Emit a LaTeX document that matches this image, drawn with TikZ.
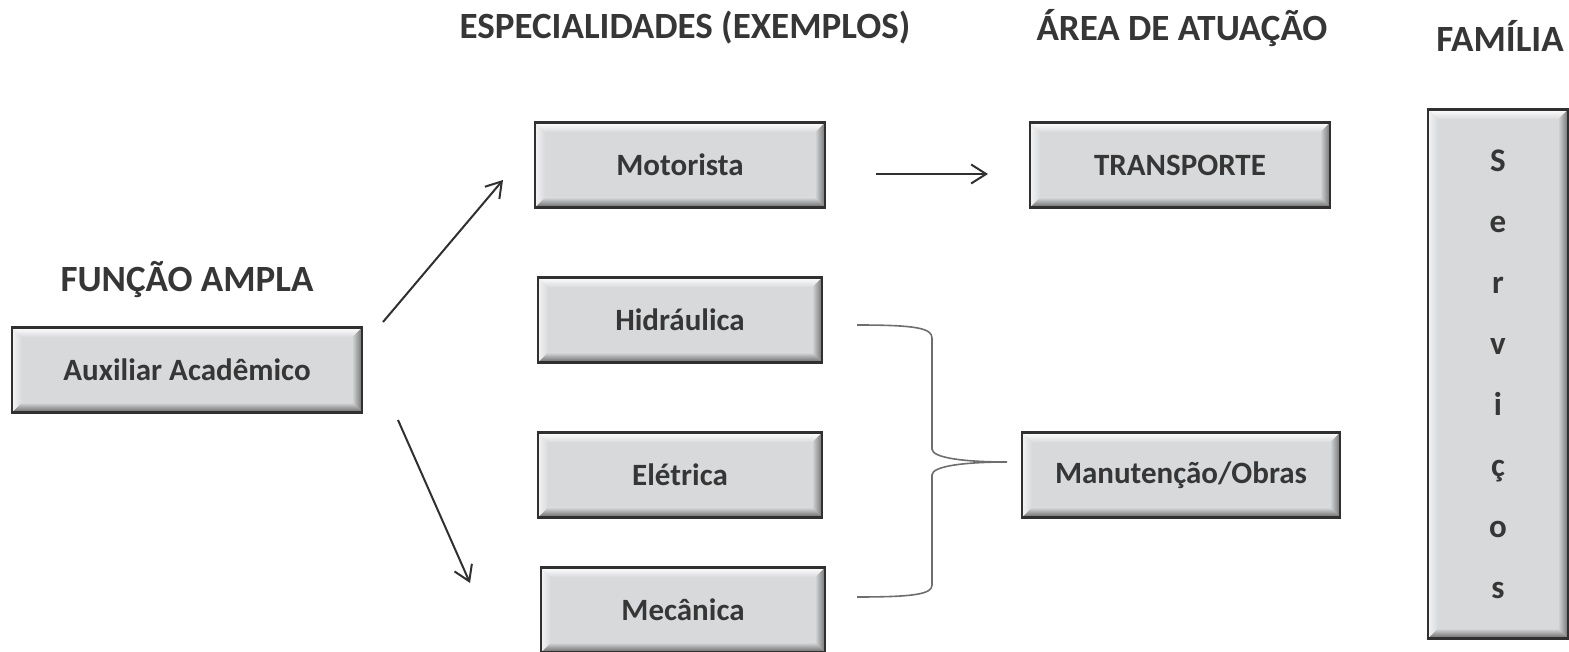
\documentclass[tikz,border=0pt]{standalone}
\usepackage{fontspec}
\setmainfont{Carlito}
\usetikzlibrary{arrows.meta,calc}
\definecolor{boxgray}{HTML}{D8D9DB}
\definecolor{edgegray}{HTML}{303030}
\definecolor{inkgray}{HTML}{363636}
\definecolor{bracegray}{HTML}{6E6E6E}
\begin{document}
\begin{tikzpicture}[x=1pt, y=-1pt,
        bevelbox/.style={draw=edgegray, line width=2.5pt, fill=boxgray, text=inkgray, inner sep=0pt,
            font=\fontsize{31}{36}\selectfont\bfseries, minimum height=85pt,
            path picture={
                \def\b{10pt}
                \coordinate (pnw) at (path picture bounding box.north west);
                \coordinate (pne) at (path picture bounding box.north east);
                \coordinate (psw) at (path picture bounding box.south west);
                \coordinate (pse) at (path picture bounding box.south east);
                \shade[top color=white, bottom color=boxgray] (pnw) -- (pne) -- ($(pne)+(-\b,-\b)$) -- ($(pnw)+(\b,-\b)$) -- cycle;
                \shade[left color=white!70!boxgray, right color=boxgray] (pnw) -- ($(pnw)+(\b,-\b)$) -- ($(psw)+(\b,\b)$) -- (psw) -- cycle;
                \shade[left color=boxgray, right color=black!55] (pne) -- (pse) -- ($(pse)+(-\b,\b)$) -- ($(pne)+(-\b,-\b)$) -- cycle;
                \shade[top color=boxgray, bottom color=black!60] (psw) -- (pse) -- ($(pse)+(-\b,\b)$) -- ($(psw)+(\b,\b)$) -- cycle;
            }},
        header/.style={font=\fontsize{37}{42}\selectfont\bfseries, text=inkgray, inner sep=0pt},
        arr/.style={draw=edgegray, line width=2pt, -{Straight Barb[length=15pt, width=19pt, line width=2pt]}},
        brace/.style={draw=bracegray, line width=1.6pt}
    ]
    \useasboundingbox (0,0) rectangle (1569,652);

    % === Headers ===
    \node[header] (hfuncao) at (187, 280) {FUNÇÃO AMPLA};
    \node[header] (hespec) at (685, 28) {ESPECIALIDADES (EXEMPLOS)};
    \node[header] (harea) at (1182, 28) {ÁREA DE ATUAÇÃO};
    \node[header] (hfamilia) at (1500, 36) {FAMÍLIA};

    % === Boxes ===
    \node[bevelbox, minimum width=350pt] (aux) at (187, 370) {Auxiliar Acadêmico};
    \node[bevelbox, minimum width=290pt] (motorista) at (680, 165) {Motorista};
    \node[bevelbox, minimum width=284pt] (hidraulica) at (680, 320) {Hidráulica};
    \node[bevelbox, minimum width=284pt] (eletrica) at (680, 475) {Elétrica};
    \node[bevelbox, minimum width=284pt] (mecanica) at (683, 610) {Mecânica};
    \node[bevelbox, minimum width=300pt] (transporte) at (1180, 165) {TRANSPORTE};
    \node[bevelbox, minimum width=318pt] (manut) at (1181, 475) {Manutenção/Obras};
    \node[bevelbox, minimum width=140pt, minimum height=529pt, align=center,
        font=\fontsize{33}{61}\selectfont\bfseries] (servicos) at (1498, 374) {S\\e\\r\\v\\i\\ç\\o\\s};

    % === Arrows ===
    \coordinate (a1s) at (383, 322);
    \coordinate (a1e) at (503, 180);
    \coordinate (a2s) at (398, 420);
    \coordinate (a2e) at (470, 583);
    \coordinate (a3s) at (876, 174);
    \coordinate (a3e) at (988, 174);
    \draw[arr] (a1s) -- (a1e);
    \draw[arr] (a2s) -- (a2e);
    \draw[arr] (a3s) -- (a3e);

    % Brace towards Manutencao/Obras
    \coordinate (btop) at (857, 325);
    \coordinate (btip) at (1007, 462);
    \coordinate (bbot) at (857, 597);
    \draw[brace] (btop) .. controls (915, 325) and (932, 328) .. (932, 338) -- (932, 449)
        .. controls (932, 458) and (965, 462) .. (btip)
        .. controls (965, 462) and (932, 466) .. (932, 475) -- (932, 585)
        .. controls (932, 594) and (915, 597) .. (bbot);

\end{tikzpicture}
\end{document}
